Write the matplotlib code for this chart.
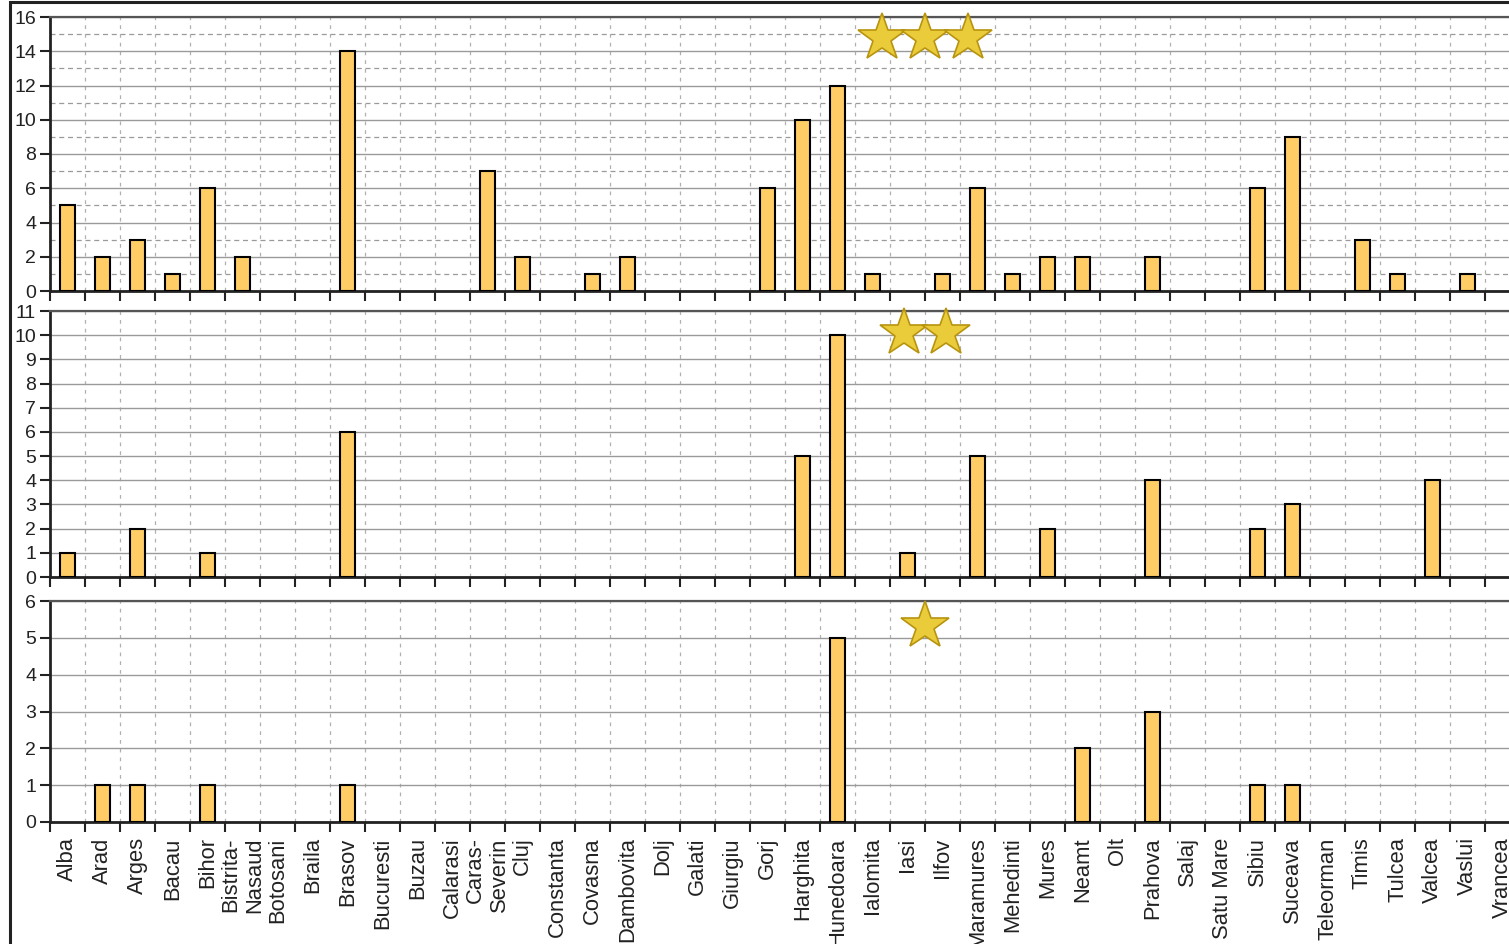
import matplotlib
matplotlib.use("Agg")
import matplotlib.pyplot as plt
import numpy as np
from matplotlib.patches import Rectangle
from matplotlib.ticker import MultipleLocator, FixedLocator

plt.rcParams['font.family'] = ['Liberation Sans', 'DejaVu Sans']

counties = ["Alba", "Arad", "Arges", "Bacau", "Bihor", "Bistrita-\nNasaud", "Botosani",
            "Braila", "Brasov", "Bucuresti", "Buzau", "Calarasi", "Caras-\nSeverin", "Cluj",
            "Constanta", "Covasna", "Dambovita", "Dolj", "Galati", "Giurgiu", "Gorj",
            "Harghita", "Hunedoara", "Ialomita", "Iasi", "Ilfov", "Maramures", "Mehedinti",
            "Mures", "Neamt", "Olt", "Prahova", "Salaj", "Satu Mare", "Sibiu", "Suceava",
            "Teleorman", "Timis", "Tulcea", "Valcea", "Vaslui", "Vrancea"]

three_stars = [5, 2, 3, 1, 6, 2, 0, 0, 14, 0, 0, 0, 7, 2, 0, 1, 2, 0, 0, 0, 6,
               10, 12, 1, 0, 1, 6, 1, 2, 2, 0, 2, 0, 0, 6, 9, 0, 3, 1, 0, 1, 0]
two_stars = [1, 0, 2, 0, 1, 0, 0, 0, 6, 0, 0, 0, 0, 0, 0, 0, 0, 0, 0, 0, 0,
             5, 10, 0, 1, 0, 5, 0, 2, 0, 0, 4, 0, 0, 2, 3, 0, 0, 0, 4, 0, 0]
one_star = [0, 1, 1, 0, 1, 0, 0, 0, 1, 0, 0, 0, 0, 0, 0, 0, 0, 0, 0, 0, 0,
            0, 5, 0, 0, 0, 0, 0, 0, 2, 0, 3, 0, 0, 1, 1, 0, 0, 0, 0, 0, 0]

panels = [
    (three_stars, 16, 2, 1, 3),
    (two_stars, 11, 1, None, 2),
    (one_star, 6, 1, None, 1),
]

W, H = 1509, 944
fig = plt.figure(figsize=(W / 100, H / 100), dpi=100)
fig.patch.set_facecolor('white')

# outer frame
fig.add_artist(Rectangle((10 / W, -0.05), 1.2, (H - 2) / H + 0.05, transform=fig.transFigure,
                         fill=False, edgecolor='#222222', linewidth=2.2))

left = 50 / W
width = 1470 / W
pos = [(291, 17), (577, 311), (822, 601)]
star_pos = [
    ([0.566, 0.595, 0.6245], 0.923),
    ([0.581, 0.6095], 0.917),
    ([0.595], 0.887),
]

x = np.arange(len(counties))
bar_color = '#FFCC66'

for i, ((vals, ymax, major, minor, nst), (yb, yt), (sx, sy)) in enumerate(zip(panels, pos, star_pos)):
    ax = fig.add_axes([left, 1 - yb / H, width, (yb - yt) / H])
    ax.set_xlim(-0.5, len(counties) - 0.5)
    ax.set_ylim(0, ymax)
    v = np.asarray(vals)
    nz = v > 0
    ax.bar(x[nz], v[nz], width=0.42, color=bar_color, edgecolor='black', linewidth=1.5, zorder=3)

    # horizontal grid
    ax.yaxis.set_major_locator(MultipleLocator(major))
    ax.grid(axis='y', which='major', color='#9a9a9a', linewidth=1.0, linestyle='-', zorder=0)
    if minor:
        for yv in np.arange(minor, ymax, major):
            ax.axhline(yv, color='#9a9a9a', linewidth=0.9, linestyle=(0, (4, 3)), zorder=0)
    # vertical dashed grid at category boundaries
    bounds = np.arange(0.5, len(counties) - 0.5, 1.0)
    for bx in bounds:
        ax.axvline(bx, color='#b0b0b0', linewidth=0.9, linestyle=(0, (3, 4)), zorder=0)

    ax.xaxis.set_minor_locator(FixedLocator(np.arange(-0.5, len(counties), 1.0)))
    ax.set_xticks(x)
    if i == 2:
        ax.set_xticklabels(counties, rotation=90, ha='center', va='top',
                           multialignment='right', fontsize=15.8, color='#222222')
    else:
        ax.set_xticklabels([])
    ax.tick_params(axis='x', which='major', length=0, pad=11)
    ax.tick_params(axis='x', which='minor', length=7, width=1.5, direction='out', color='#222222')
    ax.tick_params(axis='y', which='major', length=7, width=1.5, direction='out',
                   labelsize=14, colors='#222222', pad=3)
    ax.tick_params(axis='y', which='minor', length=0)

    for sp in ['left', 'bottom']:
        ax.spines[sp].set_linewidth(2.0)
        ax.spines[sp].set_color('#222222')
    ax.spines['top'].set_linewidth(1.6)
    ax.spines['top'].set_color('#555555')
    ax.spines['right'].set_visible(False)

    ax.plot(sx, [sy] * len(sx), marker='*', linestyle='none', markersize=36,
            markerfacecolor='#EACB3A', markeredgecolor='#B8940E', markeredgewidth=1.2,
            transform=ax.transAxes, zorder=5, clip_on=False)

fig.savefig("out.png", dpi=100)
